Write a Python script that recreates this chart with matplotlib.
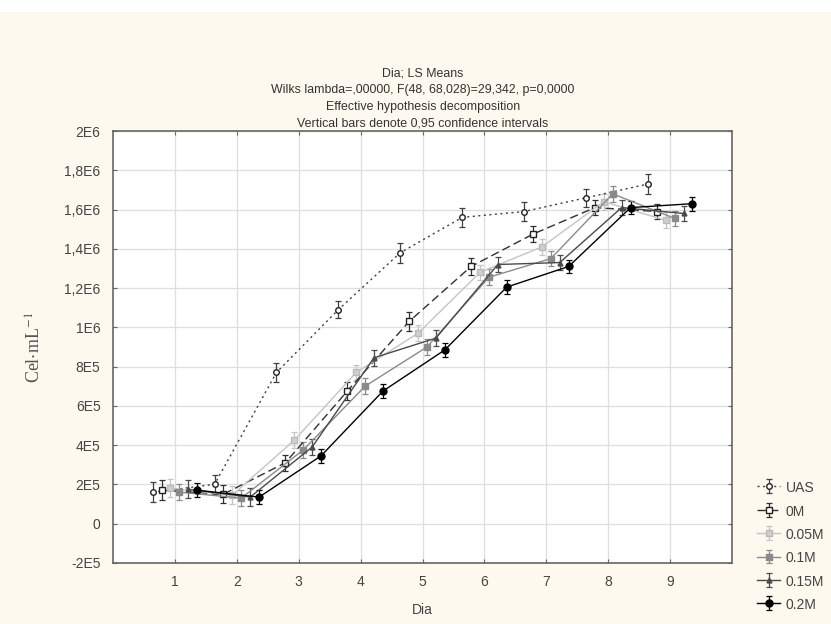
import numpy as np
import matplotlib
matplotlib.use("Agg")
import matplotlib.pyplot as plt
from matplotlib.patches import Rectangle

plt.rcParams['font.family'] = ['Liberation Sans', 'DejaVu Sans']
plt.rcParams['mathtext.fontset'] = 'stix'

days = [1, 2, 3, 4, 5, 6, 7, 8, 9]
groups = ["UAS", "0M", "0.05M", "0.1M", "0.15M", "0.2M"]

# LS means (cells per mL)
uas = [1.60e5, 2.00e5, 7.70e5, 1.09e6, 1.38e6, 1.56e6, 1.59e6, 1.66e6, 1.73e6]
m0 = [1.70e5, 1.50e5, 3.10e5, 6.75e5, 1.03e6, 1.31e6, 1.475e6, 1.61e6, 1.59e6]
m005 = [1.80e5, 1.45e5, 4.25e5, 7.70e5, 9.70e5, 1.28e6, 1.41e6, 1.64e6, 1.545e6]
m01 = [1.60e5, 1.30e5, 3.75e5, 7.00e5, 9.00e5, 1.255e6, 1.35e6, 1.68e6, 1.555e6]
m015 = [1.75e5, 1.35e5, 3.90e5, 8.45e5, 9.45e5, 1.32e6, 1.33e6, 1.61e6, 1.58e6]
m02 = [1.70e5, 1.35e5, 3.45e5, 6.75e5, 8.85e5, 1.205e6, 1.31e6, 1.61e6, 1.63e6]

# half widths of the 0.95 intervals
err_uas = [5e4, 5e4, 5e4, 4.5e4, 5e4, 5e4, 5e4, 4.5e4, 5e4]
err_m0 = [5e4, 4.5e4, 4e4, 4.5e4, 5e4, 4.5e4, 4e4, 4e4, 4e4]
err_m005 = [4.5e4, 4.5e4, 4e4, 4e4, 4e4, 4e4, 4e4, 4e4, 4e4]
err_m01 = [4e4, 4e4, 4e4, 4e4, 4e4, 4e4, 4e4, 4e4, 4e4]
err_m015 = [4.5e4, 4.5e4, 4e4, 4e4, 4e4, 4e4, 4e4, 4e4, 4e4]
err_m02 = [3.5e4, 3.5e4, 3.5e4, 3.5e4, 3.5e4, 3.5e4, 3.5e4, 3.5e4, 3.5e4]

values = [uas, m0, m005, m01, m015, m02]
errors = [err_uas, err_m0, err_m005, err_m01, err_m015, err_m02]

styles = [
    dict(ls=(0, (1.5, 2.5)), color='#404040', marker='o', mfc='white', mec='#222222', ms=4),
    dict(ls=(0, (6, 3)), color='#303030', marker='s', mfc='white', mec='#222222', ms=4),
    dict(ls='-', color='#c4c4c4', marker='s', mfc='#cfcfcf', mec='#bbbbbb', ms=4),
    dict(ls='-', color='#8a8a8a', marker='s', mfc='#8a8a8a', mec='#8a8a8a', ms=5),
    dict(ls='-', color='#4a4a4a', marker='^', mfc='#4a4a4a', mec='#4a4a4a', ms=3.5),
    dict(ls='-', color='#000000', marker='o', mfc='#000000', mec='#000000', ms=5),
]
offsets = np.linspace(-0.36, 0.36, len(groups))

bg = '#fdf9ee'
fig = plt.figure(figsize=(8.31, 6.24), dpi=100, facecolor=bg)
fig.patches.append(Rectangle((0, 1 - 12 / 624), 1, 12 / 624, transform=fig.transFigure,
                             facecolor='white', edgecolor='none', zorder=0))
ax = fig.add_axes([0.136, 0.098, 0.745, 0.692])
ax.set_facecolor('white')

for name, v, e, st, off in zip(groups, values, errors, styles, offsets):
    x = np.array(days) + off
    ax.errorbar(x, v, yerr=e, ls=st['ls'], color=st['color'], lw=1.0,
                marker=st['marker'], mfc=st['mfc'], mec=st['mec'], ms=st['ms'],
                ecolor=st['color'], elinewidth=0.9, capsize=2.5, capthick=0.9,
                label=name)

ax.set_xlim(0, 10)
ax.set_ylim(-2e5, 2e6)
ax.set_xticks(days)
yt = np.arange(-2e5, 2.01e6, 2e5)
ylab = ['-2E5', '0', '2E5', '4E5', '6E5', '8E5', '1E6', '1,2E6', '1,4E6', '1,6E6', '1,8E6', '2E6']
ax.set_yticks(yt)
ax.set_yticklabels(ylab)
ax.grid(True, color='#dedede', lw=0.9)
ax.set_axisbelow(True)
ax.tick_params(axis='both', labelsize=10, labelcolor='#444444', color='#666666',
               direction='in', length=3, top=True, right=True, pad=9)
for s in ax.spines.values():
    s.set_color('#666666')
    s.set_linewidth(1.2)

ax.set_xlabel('Dia', fontsize=10, color='#444444', labelpad=10)
ax.set_ylabel(r'Cel$\cdot$mL$^{-1}$', fontsize=13, color='#555555',
              family='Liberation Serif', labelpad=14)

ax.set_title('Dia; LS Means\n'
             'Wilks lambda=,00000, F(48, 68,028)=29,342, p=0,0000\n'
             'Effective hypothesis decomposition\n'
             'Vertical bars denote 0,95 confidence intervals',
             fontsize=8.9, color='#333333', linespacing=1.55, pad=3)

fig.legend(loc='lower left', bbox_to_anchor=(747 / 831, 2 / 624), frameon=False,
           fontsize=10, labelcolor='#444444', handlelength=1.7, handleheight=1.2,
           labelspacing=0.62, handletextpad=0.4, borderpad=0.2)

fig.savefig('out.png', dpi=100, facecolor=bg)
